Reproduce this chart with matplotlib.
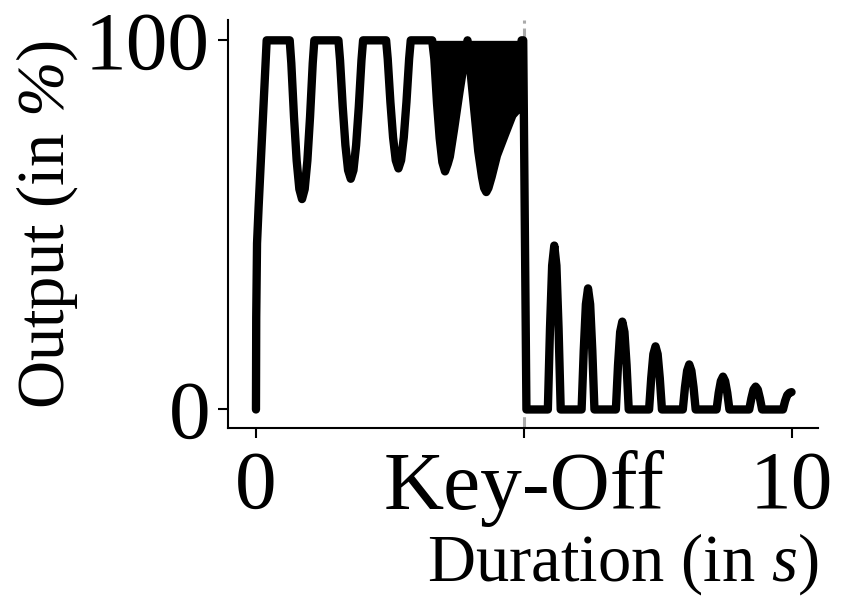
import matplotlib
matplotlib.use("Agg")
import matplotlib.pyplot as plt
import numpy as np

# ---------------- data ----------------
# sustain part (attack, LFO dips clipped at 100, dense vibrato region, key-off fall)
sustain_x = [0.00, 0.005, 0.02, 0.05, 0.20,
             0.63, 0.66, 0.71, 0.76, 0.81, 0.86, 0.91, 0.96, 1.01, 1.06, 1.09,
             1.54, 1.57, 1.62, 1.67, 1.72, 1.77, 1.82, 1.87, 1.92, 1.97, 2.00,
             2.43, 2.46, 2.51, 2.56, 2.61, 2.66, 2.71, 2.76, 2.81, 2.86, 2.89,
             3.29, 3.33, 3.38, 3.43, 3.48, 3.53, 3.58, 3.62, 3.70, 3.80, 3.95,
             4.05, 4.15, 4.22, 4.26, 4.30, 4.34, 4.40, 4.50, 4.65, 4.79, 4.90, 4.96, 4.99,
             5.05]
sustain_y = [0.0, 25.0, 45.0, 55.0, 100.0,
             100.0, 93.8, 79.3, 67.4, 59.7, 57.0, 59.7, 67.4, 79.3, 93.8, 100.0,
             100.0, 94.6, 82.0, 71.6, 64.8, 62.5, 64.8, 71.6, 82.0, 94.6, 100.0,
             100.0, 95.0, 83.3, 73.7, 67.5, 65.3, 67.5, 73.7, 83.3, 95.0, 100.0,
             100.0, 95.0, 83.0, 73.5, 67.0, 64.5, 66.5, 68.5, 76.0, 86.0, 100.0,
             85.0, 70.0, 63.0, 60.0, 58.9, 60.0, 63.0, 68.8, 74.5, 79.7, 81.5, 100.0, 100.0,
             0.0]

# region where the fast vibrato fills the space up to 100 %
dense_start = 3.29
dense_end = 4.99

# release part (decaying bumps)
release_x = [5.05, 5.45, 5.49, 5.53, 5.57, 5.61, 5.65, 5.69,
             6.08, 6.12, 6.16, 6.20, 6.24, 6.28, 6.32,
             6.72, 6.76, 6.80, 6.84, 6.88, 6.92, 6.96,
             7.34, 7.38, 7.42, 7.46, 7.50, 7.54, 7.58,
             7.97, 8.01, 8.05, 8.09, 8.13, 8.17, 8.21,
             8.60, 8.64, 8.68, 8.72, 8.76, 8.80, 8.84,
             9.21, 9.25, 9.29, 9.33, 9.37, 9.41, 9.45,
             9.84, 9.88, 9.92, 9.96, 10.00]
release_y = [0.0, 0.0, 22.0, 39.0, 44.4, 39.0, 22.0, 0.0,
             0.0, 16.0, 28.5, 32.8, 28.5, 16.0, 0.0,
             0.0, 12.0, 21.0, 23.8, 21.0, 12.0, 0.0,
             0.0, 8.5, 15.0, 17.1, 15.0, 8.5, 0.0,
             0.0, 6.0, 10.5, 12.2, 10.5, 6.0, 0.0,
             0.0, 4.5, 7.7, 8.9, 7.7, 4.5, 0.0,
             0.0, 3.0, 5.4, 6.2, 5.4, 3.0, 0.0,
             0.0, 2.3, 3.9, 4.5, 4.7]

key_off = 5.0
x_ticks = [0, 5, 10]
x_tick_labels = ["0", "Key-Off", "10"]
y_ticks = [0, 100]
y_tick_labels = ["0", "100"]

# ---------------- style ----------------
plt.rcParams["font.family"] = ["Liberation Serif", "DejaVu Serif"]
plt.rcParams["mathtext.fontset"] = "custom"
plt.rcParams["mathtext.rm"] = "Liberation Serif"
plt.rcParams["mathtext.it"] = "Liberation Serif:italic"
plt.rcParams["mathtext.sf"] = "Liberation Serif:italic"

fig = plt.figure(figsize=(8.48, 6.07), dpi=100)
ax = fig.add_axes([0.269, 0.295, 0.696, 0.672])

x_all = np.array(sustain_x + release_x[1:])
y_all = np.array(sustain_y + release_y[1:])

# dense vibrato region filled up to 100 %
sx = np.array(sustain_x)
sy = np.array(sustain_y)
mask = (sx >= dense_start) & (sx <= dense_end)
ax.fill_between(sx[mask], sy[mask], 100, color="black", linewidth=0, zorder=3)

ax.axvline(key_off, color="#aaaaaa", linestyle="--", linewidth=2.2, zorder=1)
ax.plot(x_all, y_all, color="black", linewidth=6, solid_joinstyle="round",
        solid_capstyle="round", zorder=4)

ax.set_xlim(-0.52, 10.5)
ax.set_ylim(-5, 105.5)
ax.set_xticks(x_ticks)
ax.set_xticklabels(x_tick_labels)
ax.set_yticks(y_ticks)
ax.set_yticklabels(y_tick_labels)

for s in ["top", "right"]:
    ax.spines[s].set_visible(False)
for s in ["left", "bottom"]:
    ax.spines[s].set_linewidth(1.5)

ax.tick_params(axis="both", direction="out", length=7, width=1.5)
ax.tick_params(axis="x", pad=9, labelsize=60)
ax.tick_params(axis="y", pad=6, labelsize=60)

ax.set_xlabel(r"Duration (in $s$)", fontsize=48, loc="right", labelpad=3)
ax.set_ylabel(r"Output (in $\mathsf{\%}$)", fontsize=48, labelpad=4)

fig.savefig("out.png", dpi=100)
